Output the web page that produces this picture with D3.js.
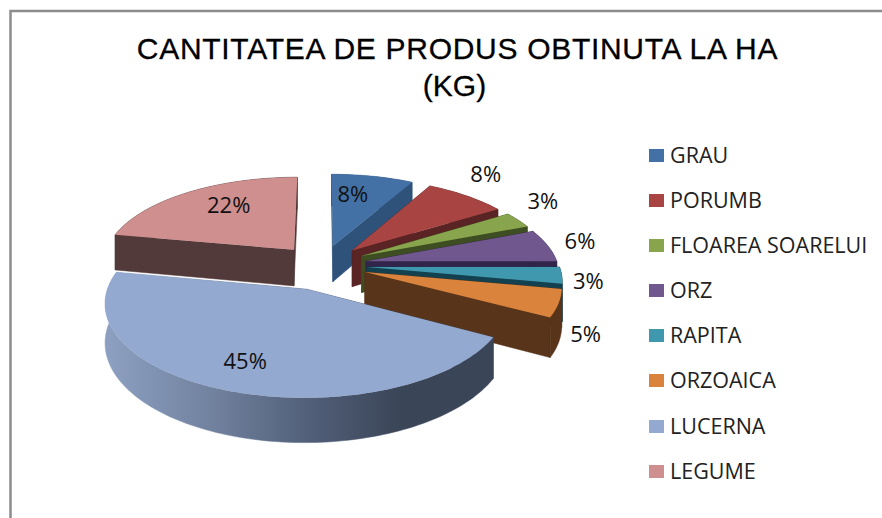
<!DOCTYPE html>
<html><head><meta charset="utf-8">
<script src="https://cdn.jsdelivr.net/npm/d3@7"></script>
<style>html,body{margin:0;padding:0;background:#fff;overflow:hidden}svg{display:block}</style>
</head><body><div id="c"></div>
<script>
const categories=["GRAU","PORUMB","FLOAREA SOARELUI","ORZ","RAPITA","ORZOAICA","LUCERNA","LEGUME"];
const values=[8,8,3,6,3,5,45,22];
const labels=["8%","8%","3%","6%","3%","5%","45%","22%"];
const topColors=["#4371a6","#a84543","#88a44d","#70588e","#4098ae","#da833c","#93a9cf","#cf8f8e"];
const sideColors=["#2f527a","#5a2424","#3e4e22","#32244a","#14414f","#57341a","#3b4558","#533a3a"];
const explode=[45,45,45,45,45,45,55,45];
const nudgeX=[0,0,0,0,0,0,4,0];
const labelRadius=[130,254,244,227,217,232,146,129];
const labelDeg=[10.4,39,57.1,79.3,99.2,123,200.8,325];
const legendY=[155,200,245,290,335,380,426,471];

const W=882,H=518,cx=322,cy=265,R=192,tilt=0.45,dist=1400,depth=37;
const svg=d3.select("#c").append("svg").attr("width",W).attr("height",H);
svg.append("rect").attr("width",W).attr("height",H).attr("fill","#fff");
svg.append("path").attr("d",`M10.5,${H}V11H${W}`).attr("fill","none").attr("stroke","#8c8c8c").attr("stroke-width",2.5);

const arcs=d3.pie().sort(null).value(d=>d)(values);
const project=(X,Y,Z)=>{const s=dist/(dist-Z);return [cx+s*X,cy+s*(Z*tilt-Y)];};
const line=d3.line().curve(d3.curveLinear);
const geo=arcs.map((a,i)=>{
  const mid=(a.startAngle+a.endAngle)/2;
  const ox=explode[i]*Math.sin(mid)+nudgeX[i],oz=-explode[i]*Math.cos(mid);
  const n=Math.max(6,Math.ceil((a.endAngle-a.startAngle)*40));
  const angs=d3.range(n+1).map(k=>a.startAngle+(a.endAngle-a.startAngle)*k/n);
  const at=(ang,r,y)=>project(ox+r*Math.sin(ang),y,oz-r*Math.cos(ang));
  return {i,a,mid,angs,at};
});
const defs=svg.append("defs");
const grad=defs.append("linearGradient").attr("id","lucSide").attr("gradientUnits","userSpaceOnUse")
  .attr("x1",110).attr("x2",400).attr("y1",0).attr("y2",0);
[[0,"#8c9fc0"],[0.35,"#71829f"],[0.7,"#505e77"],[1,"#3b4558"]].forEach(s=>grad.append("stop").attr("offset",s[0]).attr("stop-color",s[1]));

const order=[7,0,1,2,3,4,5,6];
order.forEach(i=>{
  const g=geo[i],a=g.a,at=g.at,sc=i===6?"url(#lucSide)":sideColors[i];
  const G=svg.append("g");
  const face=pts=>G.append("path").attr("d",line(pts)+"Z").attr("fill",sc).attr("stroke",sc).attr("stroke-width",0.5);
  face([at(a.startAngle,0,0),at(a.startAngle,R,0),at(a.startAngle,R,-depth),at(a.startAngle,0,-depth)]);
  face([at(a.endAngle,0,0),at(a.endAngle,R,0),at(a.endAngle,R,-depth),at(a.endAngle,0,-depth)]);
  face(g.angs.map(t=>at(t,R,0)).concat(g.angs.slice().reverse().map(t=>at(t,R,-depth))));
  G.append("path").attr("d",line([at(0,0,0)].concat(g.angs.map(t=>at(t,R,0))))+"Z").attr("fill",topColors[i]);
});

const lp=g=>g.at(labelDeg[g.i]*Math.PI/180,labelRadius[g.i],0);
svg.selectAll("text.lab").data(geo).join("text").attr("class","lab")
  .attr("x",g=>lp(g)[0]).attr("y",g=>lp(g)[1])
  .attr("text-anchor","middle").attr("dominant-baseline","middle")
  .attr("font-family","'Open Sans',sans-serif").attr("font-size",22).attr("fill","#111")
  .text(g=>labels[g.i]);

const title=svg.append("text").attr("font-family","'Liberation Sans',Arial,sans-serif").attr("font-size",30).attr("fill","#000").attr("stroke","#000").attr("stroke-width",0.3).attr("text-anchor","middle");
title.append("tspan").attr("x",457.5).attr("y",59).attr("letter-spacing",0.7).text("CANTITATEA DE PRODUS OBTINUTA LA HA");
title.append("tspan").attr("x",454.5).attr("y",96).text("(KG)");

const leg=svg.selectAll("g.leg").data(categories).join("g").attr("class","leg");
leg.append("rect").attr("x",649).attr("y",(d,i)=>legendY[i]-6).attr("width",15).attr("height",13).attr("fill",(d,i)=>topColors[i]);
leg.append("text").attr("x",670).attr("y",(d,i)=>legendY[i]+7.5).attr("font-family","'Open Sans',sans-serif").attr("font-size",21.5).attr("fill","#222").text(d=>d);
</script></body></html>
